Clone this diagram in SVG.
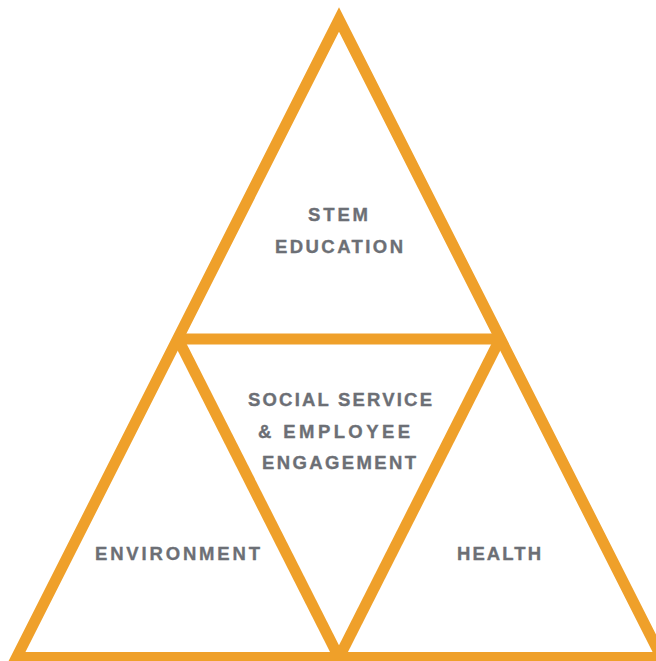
<svg xmlns="http://www.w3.org/2000/svg" width="656" height="661" viewBox="0 0 656 661">
  <style>
    .edge { fill: none; stroke: #EFA02A; stroke-width: 11; stroke-linejoin: miter; stroke-miterlimit: 10; }
    .inner { fill: none; stroke: #EFA02A; stroke-width: 11; stroke-linecap: butt; }
    .label { font-family: "Liberation Sans", Arial, sans-serif; font-weight: bold; font-size: 18.5px; fill: #6C6F75; stroke: #6C6F75; stroke-width: 0.35; }
  </style>
  <rect width="656" height="661" fill="#FFFFFF"/>
  <g id="connectors">
    <!-- outer triangle -->
    <polygon class="edge" points="339,19.5 16.5,657.5 661.5,657.5"/>
    <!-- middle bar and the inverted inner triangle's sides -->
    <line class="inner" x1="176" y1="339" x2="502" y2="339"/>
    <line class="inner" x1="178" y1="339" x2="339" y2="657.5"/>
    <line class="inner" x1="500" y1="339" x2="339" y2="657.5"/>
  </g>
  <g id="stem-education">
    <text class="label" x="308" y="221" textLength="60" lengthAdjust="spacing">STEM</text>
    <text class="label" x="275" y="253" textLength="128" lengthAdjust="spacing">EDUCATION</text>
  </g>
  <g id="social-service">
    <text class="label" x="248" y="406" textLength="184" lengthAdjust="spacing">SOCIAL SERVICE</text>
    <text class="label" x="258" y="438" textLength="152" lengthAdjust="spacing">&amp; EMPLOYEE</text>
    <text class="label" x="262" y="469" textLength="154" lengthAdjust="spacing">ENGAGEMENT</text>
  </g>
  <g id="environment">
    <text class="label" x="95" y="560" textLength="165" lengthAdjust="spacing">ENVIRONMENT</text>
  </g>
  <g id="health">
    <text class="label" x="457" y="560" textLength="84" lengthAdjust="spacing">HEALTH</text>
  </g>
</svg>
